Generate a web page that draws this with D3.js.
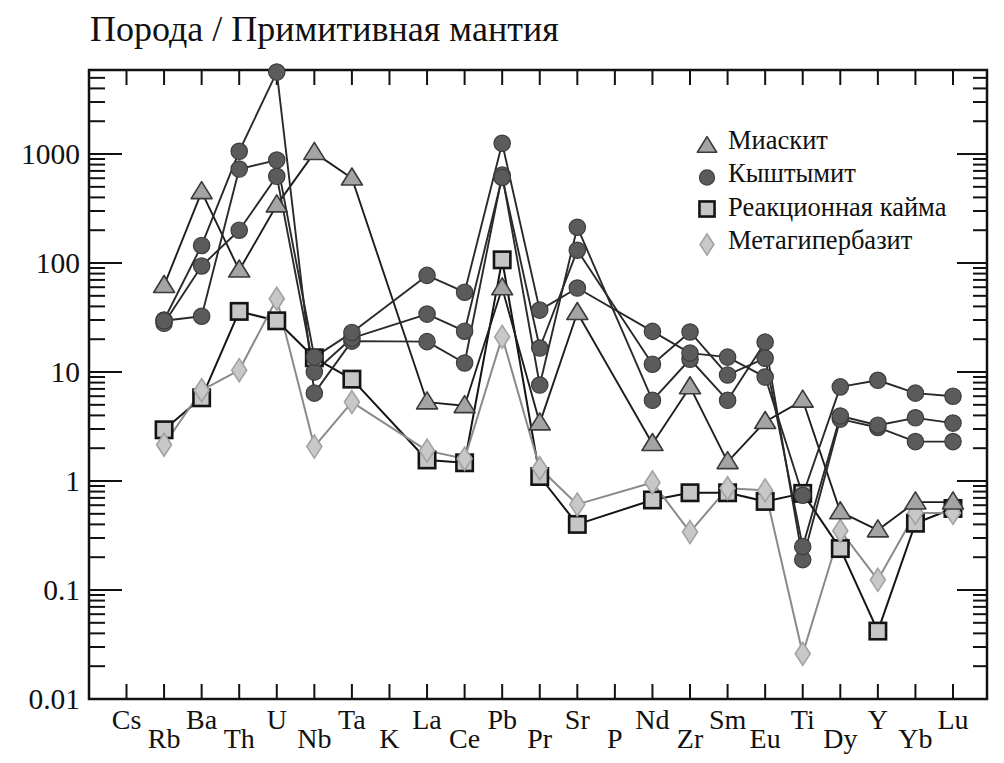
<!DOCTYPE html>
<html><head><meta charset="utf-8">
<script src="https://cdn.jsdelivr.net/npm/d3@7"></script>
<style>
html,body{margin:0;padding:0;background:#fff;}
svg{display:block;}
</style></head>
<body>
<svg id="chart" width="1004" height="763"></svg>
<script>
const elements = ["Cs","Rb","Ba","Th","U","Nb","Ta","K","La","Ce","Pb","Pr","Sr","P","Nd","Zr","Sm","Eu","Ti","Dy","Y","Yb","Lu"];
const yTickValues = [0.01, 0.1, 1, 10, 100, 1000];
const yTickLabels = ["0.01","0.1","1","10","100","1000"];
const title = "Порода / Примитивная мантия";
const legendLabels = ["Миаскит","Кыштымит","Реакционная кайма","Метагипербазит"];

// values (rock / primitive mantle); null = not analysed
const miaskite = [null, 62, 450, 86, 340, 1030, 600, null, 5.3, 4.9, 59, 3.4, 35, null, 2.2, 7.3, 1.5, 3.5, 5.5, 0.52, 0.355, 0.64, 0.64];
const kysht1   = [null, 30, 145, 1060, 5650, 6.4, 19.2, null, 19, 12.1, 640, 7.6, 213, null, 5.5, 13.1, 5.5, 18.8, 0.19, 3.7, 3.1, 2.3, 2.3];
const kysht2   = [null, 28, 94, 200, 625, 10, 20.5, null, 34, 23.7, 610, 16.6, 131, null, 11.8, 23.3, 9.4, 13.4, 0.25, 3.95, 3.25, 3.8, 3.4];
const kysht3   = [null, 29.5, 32.5, 728, 880, 13.7, 23, null, 77, 54, 1255, 37, 59, null, 23.6, 14.9, 13.7, 9, 0.74, 7.3, 8.4, 6.4, 6.0];
const rim      = [null, 2.95, 5.8, 36, 29.5, 13.5, 8.6, null, 1.56, 1.47, 107, 1.1, 0.4, null, 0.67, 0.78, 0.78, 0.65, 0.77, 0.24, 0.042, 0.41, 0.56];
const metaUB   = [null, 2.15, 6.8, 10.4, 47, 2.07, 5.3, null, 1.9, 1.6, 21, 1.31, 0.61, null, 0.97, 0.34, 0.86, 0.82, 0.026, 0.35, 0.124, 0.51, 0.51];

const FONT = '"Liberation Serif","Times New Roman",Times,Tinos,"Noto Serif","DejaVu Serif",FreeSerif,serif';
const svg = d3.select("#chart");
const L = 89, R = 987, T = 70, B = 699;

const x = d3.scalePoint().domain(elements).range([126.5, 953]);
const y = d3.scaleLog().domain([0.01, Math.pow(10, 3.771)]).range([B, T]);

// title
svg.append("text").attr("x", 90).attr("y", 41).attr("font-size", 36)
  .style("font-family", FONT).attr("fill", "#111").text(title);

// minor ticks
const minor = [];
for (let e = -2; e <= 3; e++) for (let m = 2; m <= 9; m++) {
  const v = m * Math.pow(10, e);
  if (v < y.domain()[1]) minor.push(v);
}
const axG = svg.append("g").attr("stroke", "#111").attr("stroke-width", 2);
axG.selectAll(".lmaj").data(yTickValues).enter().append("line")
  .attr("x1", L).attr("x2", L + 33).attr("y1", d => y(d)).attr("y2", d => y(d));
axG.selectAll(".lmin").data(minor).enter().append("line")
  .attr("x1", L).attr("x2", L + 16).attr("y1", d => y(d)).attr("y2", d => y(d));
axG.selectAll(".rmaj").data(yTickValues).enter().append("line")
  .attr("x1", R).attr("x2", R - 30).attr("y1", d => y(d)).attr("y2", d => y(d));
axG.selectAll(".rmin").data(minor).enter().append("line")
  .attr("x1", R).attr("x2", R - 14).attr("y1", d => y(d)).attr("y2", d => y(d));
axG.selectAll(".bt").data(elements).enter().append("line")
  .attr("x1", d => x(d)).attr("x2", d => x(d)).attr("y1", B).attr("y2", B - 15);
axG.selectAll(".tt").data(elements).enter().append("line")
  .attr("x1", d => x(d)).attr("x2", d => x(d)).attr("y1", T).attr("y2", T + 15);

svg.append("rect").attr("x", L).attr("y", T).attr("width", R - L).attr("height", B - T)
  .attr("fill", "none").attr("stroke", "#111").attr("stroke-width", 2.5);

svg.selectAll(".yl").data(yTickValues).enter().append("text")
  .attr("x", 80).attr("y", d => y(d) + 10).attr("text-anchor", "end")
  .style("font-family", FONT).attr("fill", "#111")
  .attr("font-size", 29.5).text((d, i) => yTickLabels[i]);

svg.selectAll(".xl").data(elements).enter().append("text")
  .attr("x", d => x(d)).attr("y", (d, i) => i % 2 === 0 ? 729 : 748)
  .style("font-family", FONT).attr("fill", "#111")
  .attr("text-anchor", "middle").attr("font-size", 28).text(d => d);

const series = [
  {vals: rim, line: "#141414", lw: 2, sym: "square"},
  {vals: metaUB, line: "#8a8a8a", lw: 2, sym: "diamond"},
  {vals: miaskite, line: "#1e1e1e", lw: 1.9, sym: "triangle"},
  {vals: kysht1, line: "#2a2a2a", lw: 1.9, sym: "circle"},
  {vals: kysht2, line: "#2a2a2a", lw: 1.9, sym: "circle"},
  {vals: kysht3, line: "#2a2a2a", lw: 1.9, sym: "circle"}
];
const pts = s => elements.map((e, i) => ({e, v: s.vals[i]})).filter(d => d.v != null);
const lineGen = d3.line().x(d => x(d.e)).y(d => y(d.v));

const lineG = svg.append("g");
series.forEach(s => {
  lineG.append("path").datum(pts(s)).attr("d", lineGen)
    .attr("fill", "none").attr("stroke", s.line).attr("stroke-width", s.lw)
    .attr("stroke-linejoin", "round");
});

function drawMarker(g, sym, cx, cy, scale) {
  const k = scale || 1;
  if (sym === "circle") {
    g.append("circle").attr("cx", cx).attr("cy", cy).attr("r", 8.2 * k)
      .attr("fill", "#5b5b5b").attr("stroke", "#3d3d3d").attr("stroke-width", 1.2);
  } else if (sym === "triangle") {
    const w = 10.5 * k, h = 17 * k;
    g.append("path").attr("d", `M${cx},${cy - h * 0.6}L${cx + w},${cy + h * 0.4}L${cx - w},${cy + h * 0.4}Z`)
      .attr("fill", "#a4a4a4").attr("stroke", "#3a3a3a").attr("stroke-width", 1.6).attr("stroke-linejoin", "round");
  } else if (sym === "square") {
    const s = 8.2 * k;
    g.append("rect").attr("x", cx - s).attr("y", cy - s).attr("width", 2 * s).attr("height", 2 * s)
      .attr("fill", "#c6c6c6").attr("stroke", "#141414").attr("stroke-width", 2.6);
  } else if (sym === "diamond") {
    const w = 7.5 * k, h = 11.5 * k;
    g.append("path").attr("d", `M${cx},${cy - h}L${cx + w},${cy}L${cx},${cy + h}L${cx - w},${cy}Z`)
      .attr("fill", "#c8c8c8").attr("stroke", "#a2a2a2").attr("stroke-width", 1.6);
  }
}

const markG = svg.append("g");
series.forEach(s => {
  pts(s).forEach(d => drawMarker(markG, s.sym, x(d.e), y(d.v)));
});

const legSyms = ["triangle", "circle", "square", "diamond"];
const legMarkY = [146, 177.5, 209, 244.5];
const legTextY = [149, 181.5, 216, 249];
const legG = svg.append("g");
legSyms.forEach((sym, i) => {
  drawMarker(legG, sym, 707, legMarkY[i], 0.92);
  legG.append("text").attr("x", 728).attr("y", legTextY[i]).attr("font-size", 26.5)
    .style("font-family", FONT).attr("fill", "#111").text(legendLabels[i]);
});
</script>
</body></html>
